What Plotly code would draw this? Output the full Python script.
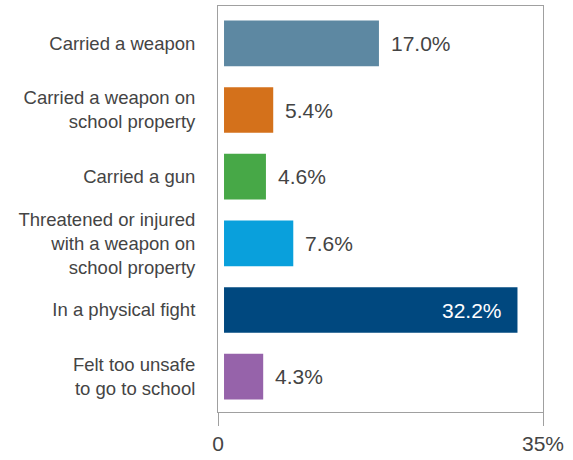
import plotly.graph_objects as go

# Share of students reporting each behaviour
categories = [
    "Carried a weapon",
    "Carried a weapon on<br>school property",
    "Carried a gun",
    "Threatened or injured<br>with a weapon on<br>school property",
    "In a physical fight",
    "Felt too unsafe<br>to go to school",
]
values = [17.0, 5.4, 4.6, 7.6, 32.2, 4.3]
colors = ["#5d88a2", "#d4711b", "#47a847", "#09a0dc", "#00487f", "#9663aa"]
axis_min = -0.66
axis_max = 35
tick_text = ["0", "35%"]

font_family = "Liberation Sans, Arial, sans-serif"
text_color = "#444444"
frame_color = "#a0a0a0"

fig = go.Figure(
    go.Bar(
        x=values,
        y=categories,
        orientation="h",
        base=0,
        width=0.686,
        marker=dict(color=colors, line=dict(width=0)),
        hoverinfo="skip",
    )
)

# Value labels: outside the bar, or inside (white) when the bar is long
annotations = []
for cat, v in zip(categories, values):
    inside = v > 25
    annotations.append(
        dict(
            x=v,
            y=cat,
            xref="x",
            yref="y",
            text=f"{v:.1f}%",
            showarrow=False,
            xanchor="right" if inside else "left",
            xshift=-13 if inside else 10,
            font=dict(size=21, color="white" if inside else text_color, family=font_family),
        )
    )

fig.update_layout(
    width=573,
    height=460,
    margin=dict(l=218, r=30, t=5, b=46),
    paper_bgcolor="white",
    plot_bgcolor="white",
    showlegend=False,
    annotations=annotations,
    font=dict(family=font_family, color=text_color),
)

fig.update_xaxes(
    range=[axis_min, axis_max],
    tickvals=[axis_min, axis_max],
    ticktext=tick_text,
    showgrid=False,
    zeroline=False,
    showline=True,
    mirror=True,
    linecolor=frame_color,
    linewidth=1,
    ticks="outside",
    ticklen=13,
    tickcolor=frame_color,
    tickfont=dict(size=21, color=text_color),
)

fig.update_yaxes(
    range=[5.53, -0.56],
    showgrid=False,
    zeroline=False,
    showline=True,
    mirror=True,
    linecolor=frame_color,
    linewidth=1,
    ticks="",
    ticklabelstandoff=18,
    tickfont=dict(size=18.5, color=text_color),
)

fig.write_html("out.html")
